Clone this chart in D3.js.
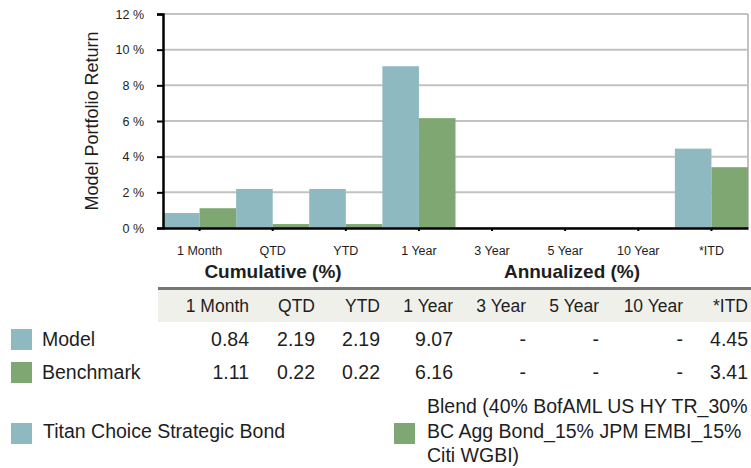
<!DOCTYPE html>
<html>
<head>
<meta charset="utf-8">
<script src="https://cdn.jsdelivr.net/npm/d3@7"></script>
<style>
  body { margin: 0; background: #fff; }
  svg { display: block; font-family: "Liberation Sans", Arial, sans-serif; }
</style>
</head>
<body>
<svg id="chart" width="751" height="468"></svg>
<script>
// data
var categories = ["1 Month", "QTD", "YTD", "1 Year", "3 Year", "5 Year", "10 Year", "*ITD"];
var seriesNames = ["Model", "Benchmark"];
var modelValues = [0.84, 2.19, 2.19, 9.07, null, null, null, 4.45];
var benchmarkValues = [1.11, 0.22, 0.22, 6.16, null, null, null, 3.41];
var yTicks = [0, 2, 4, 6, 8, 10, 12];
var groupTitles = ["Cumulative (%)", "Annualized (%)"];
var legendNames = ["Titan Choice Strategic Bond",
  "Blend (40% BofAML US HY TR_30%|BC Agg Bond_15% JPM EMBI_15%|Citi WGBI)"];

var colors = { "Model": "#8fb9c1", "Benchmark": "#7fa771" };
var textColor = "#1e1e1e";

var svg = d3.select("#chart");

// ---- bar chart ----
var plot = { left: 163, right: 748, top: 14, bottom: 228 };

var x0 = d3.scaleBand().domain(categories).range([plot.left, plot.right]).padding(0);
var x1 = d3.scaleBand().domain(seriesNames).range([0, x0.bandwidth()]).padding(0);
var y = d3.scaleLinear().domain([0, 12]).range([plot.bottom, plot.top]);

// grid
svg.append("g").selectAll("line")
  .data(yTicks)
  .enter().append("line")
  .attr("x1", plot.left).attr("x2", plot.right)
  .attr("y1", function (d) { return y(d); })
  .attr("y2", function (d) { return y(d); })
  .attr("stroke", "#c2c2c2").attr("stroke-width", 2);

svg.append("line")
  .attr("x1", plot.right).attr("x2", plot.right)
  .attr("y1", y(12)).attr("y2", y(0))
  .attr("stroke", "#c2c2c2").attr("stroke-width", 2);

var rows = categories.map(function (c, i) {
  return { cat: c, vals: [{ s: "Model", v: modelValues[i] }, { s: "Benchmark", v: benchmarkValues[i] }] };
});

svg.append("g").selectAll("g")
  .data(rows)
  .enter().append("g")
  .attr("transform", function (d) { return "translate(" + x0(d.cat) + ",0)"; })
  .selectAll("rect")
  .data(function (d) { return d.vals.filter(function (e) { return e.v != null; }); })
  .enter().append("rect")
  .attr("x", function (d) { return x1(d.s); })
  .attr("width", x1.bandwidth())
  .attr("y", function (d) { return y(d.v); })
  .attr("height", function (d) { return y(0) - y(d.v); })
  .attr("fill", function (d) { return colors[d.s]; });

// axes
var yAxis = svg.append("g")
  .attr("transform", "translate(" + plot.left + ",0)")
  .call(d3.axisLeft(y).tickValues(yTicks).tickSize(6).tickPadding(13)
    .tickFormat(function (d) { return d + " %"; }));
yAxis.select(".domain").attr("stroke", "#000").attr("stroke-width", 2.5);
yAxis.selectAll(".tick line").attr("stroke", "#000").attr("stroke-width", 2);
yAxis.selectAll("text").attr("font-size", 12.5).attr("fill", textColor)
  .attr("font-family", "Liberation Sans, Arial, sans-serif");

var xAxis = svg.append("g")
  .attr("transform", "translate(0," + plot.bottom + ")")
  .call(d3.axisBottom(x0).tickSizeInner(3).tickSizeOuter(0).tickPadding(15));
xAxis.select(".domain").attr("stroke", "#000").attr("stroke-width", 2.5);
xAxis.selectAll(".tick line").attr("stroke", "#000").attr("stroke-width", 2);
xAxis.selectAll("text").attr("font-size", 12.5).attr("fill", textColor)
  .attr("font-family", "Liberation Sans, Arial, sans-serif");

svg.append("text")
  .attr("transform", "translate(98," + ((plot.top + plot.bottom) / 2) + ") rotate(-90)")
  .attr("text-anchor", "middle")
  .attr("font-size", 18)
  .attr("fill", textColor)
  .text("Model Portfolio Return");

// ---- table ----
var colRight = [249, 315, 380, 453, 526, 599, 683, 748];
var tableLeft = 158;

svg.selectAll(".grouptitle")
  .data(groupTitles)
  .enter().append("text")
  .attr("class", "grouptitle")
  .attr("x", function (d, i) { return i == 0 ? 273 : 572; })
  .attr("y", 278)
  .attr("text-anchor", "middle")
  .attr("font-size", 19).attr("font-weight", "bold")
  .attr("fill", textColor)
  .text(function (d) { return d; });

svg.append("rect")
  .attr("x", tableLeft).attr("y", 290)
  .attr("width", 751 - tableLeft).attr("height", 32)
  .attr("fill", "#f0f0eb");
svg.append("rect")
  .attr("x", tableLeft).attr("y", 287)
  .attr("width", 751 - tableLeft).attr("height", 3)
  .attr("fill", "#777");

svg.selectAll(".colhead")
  .data(categories)
  .enter().append("text")
  .attr("class", "colhead")
  .attr("x", function (d, i) { return colRight[i]; })
  .attr("y", 312)
  .attr("text-anchor", "end")
  .attr("font-size", 17.5)
  .attr("fill", textColor)
  .text(function (d) { return d; });

var tableRows = [
  { name: "Model", vals: modelValues, base: 346 },
  { name: "Benchmark", vals: benchmarkValues, base: 379 }
];

tableRows.forEach(function (r) {
  svg.append("rect")
    .attr("x", 11).attr("y", r.base - 17)
    .attr("width", 21).attr("height", 21)
    .attr("fill", colors[r.name]);
  svg.append("text")
    .attr("x", 42).attr("y", r.base)
    .attr("font-size", 19.5).attr("fill", textColor)
    .text(r.name);
  svg.selectAll(null)
    .data(r.vals)
    .enter().append("text")
    .attr("x", function (d, i) { return colRight[i]; })
    .attr("y", r.base)
    .attr("text-anchor", "end")
    .attr("font-size", 19.5)
    .attr("fill", textColor)
    .text(function (d) { return d == null ? "-" : d.toFixed(2); });
});

// ---- legend ----
svg.append("rect")
  .attr("x", 11).attr("y", 423).attr("width", 21).attr("height", 21)
  .attr("fill", colors["Model"]);
svg.append("text")
  .attr("x", 43).attr("y", 438)
  .attr("font-size", 19.5).attr("fill", textColor)
  .text(legendNames[0]);

svg.append("rect")
  .attr("x", 394).attr("y", 423).attr("width", 21).attr("height", 21)
  .attr("fill", colors["Benchmark"]);
var blend = svg.append("text")
  .attr("x", 427).attr("y", 413)
  .attr("font-size", 19.5).attr("fill", textColor);
blend.selectAll("tspan")
  .data(legendNames[1].split("|"))
  .enter().append("tspan")
  .attr("x", 427)
  .attr("dy", function (d, i) { return i == 0 ? 0 : 24.5; })
  .text(function (d) { return d; });
</script>
</body>
</html>
